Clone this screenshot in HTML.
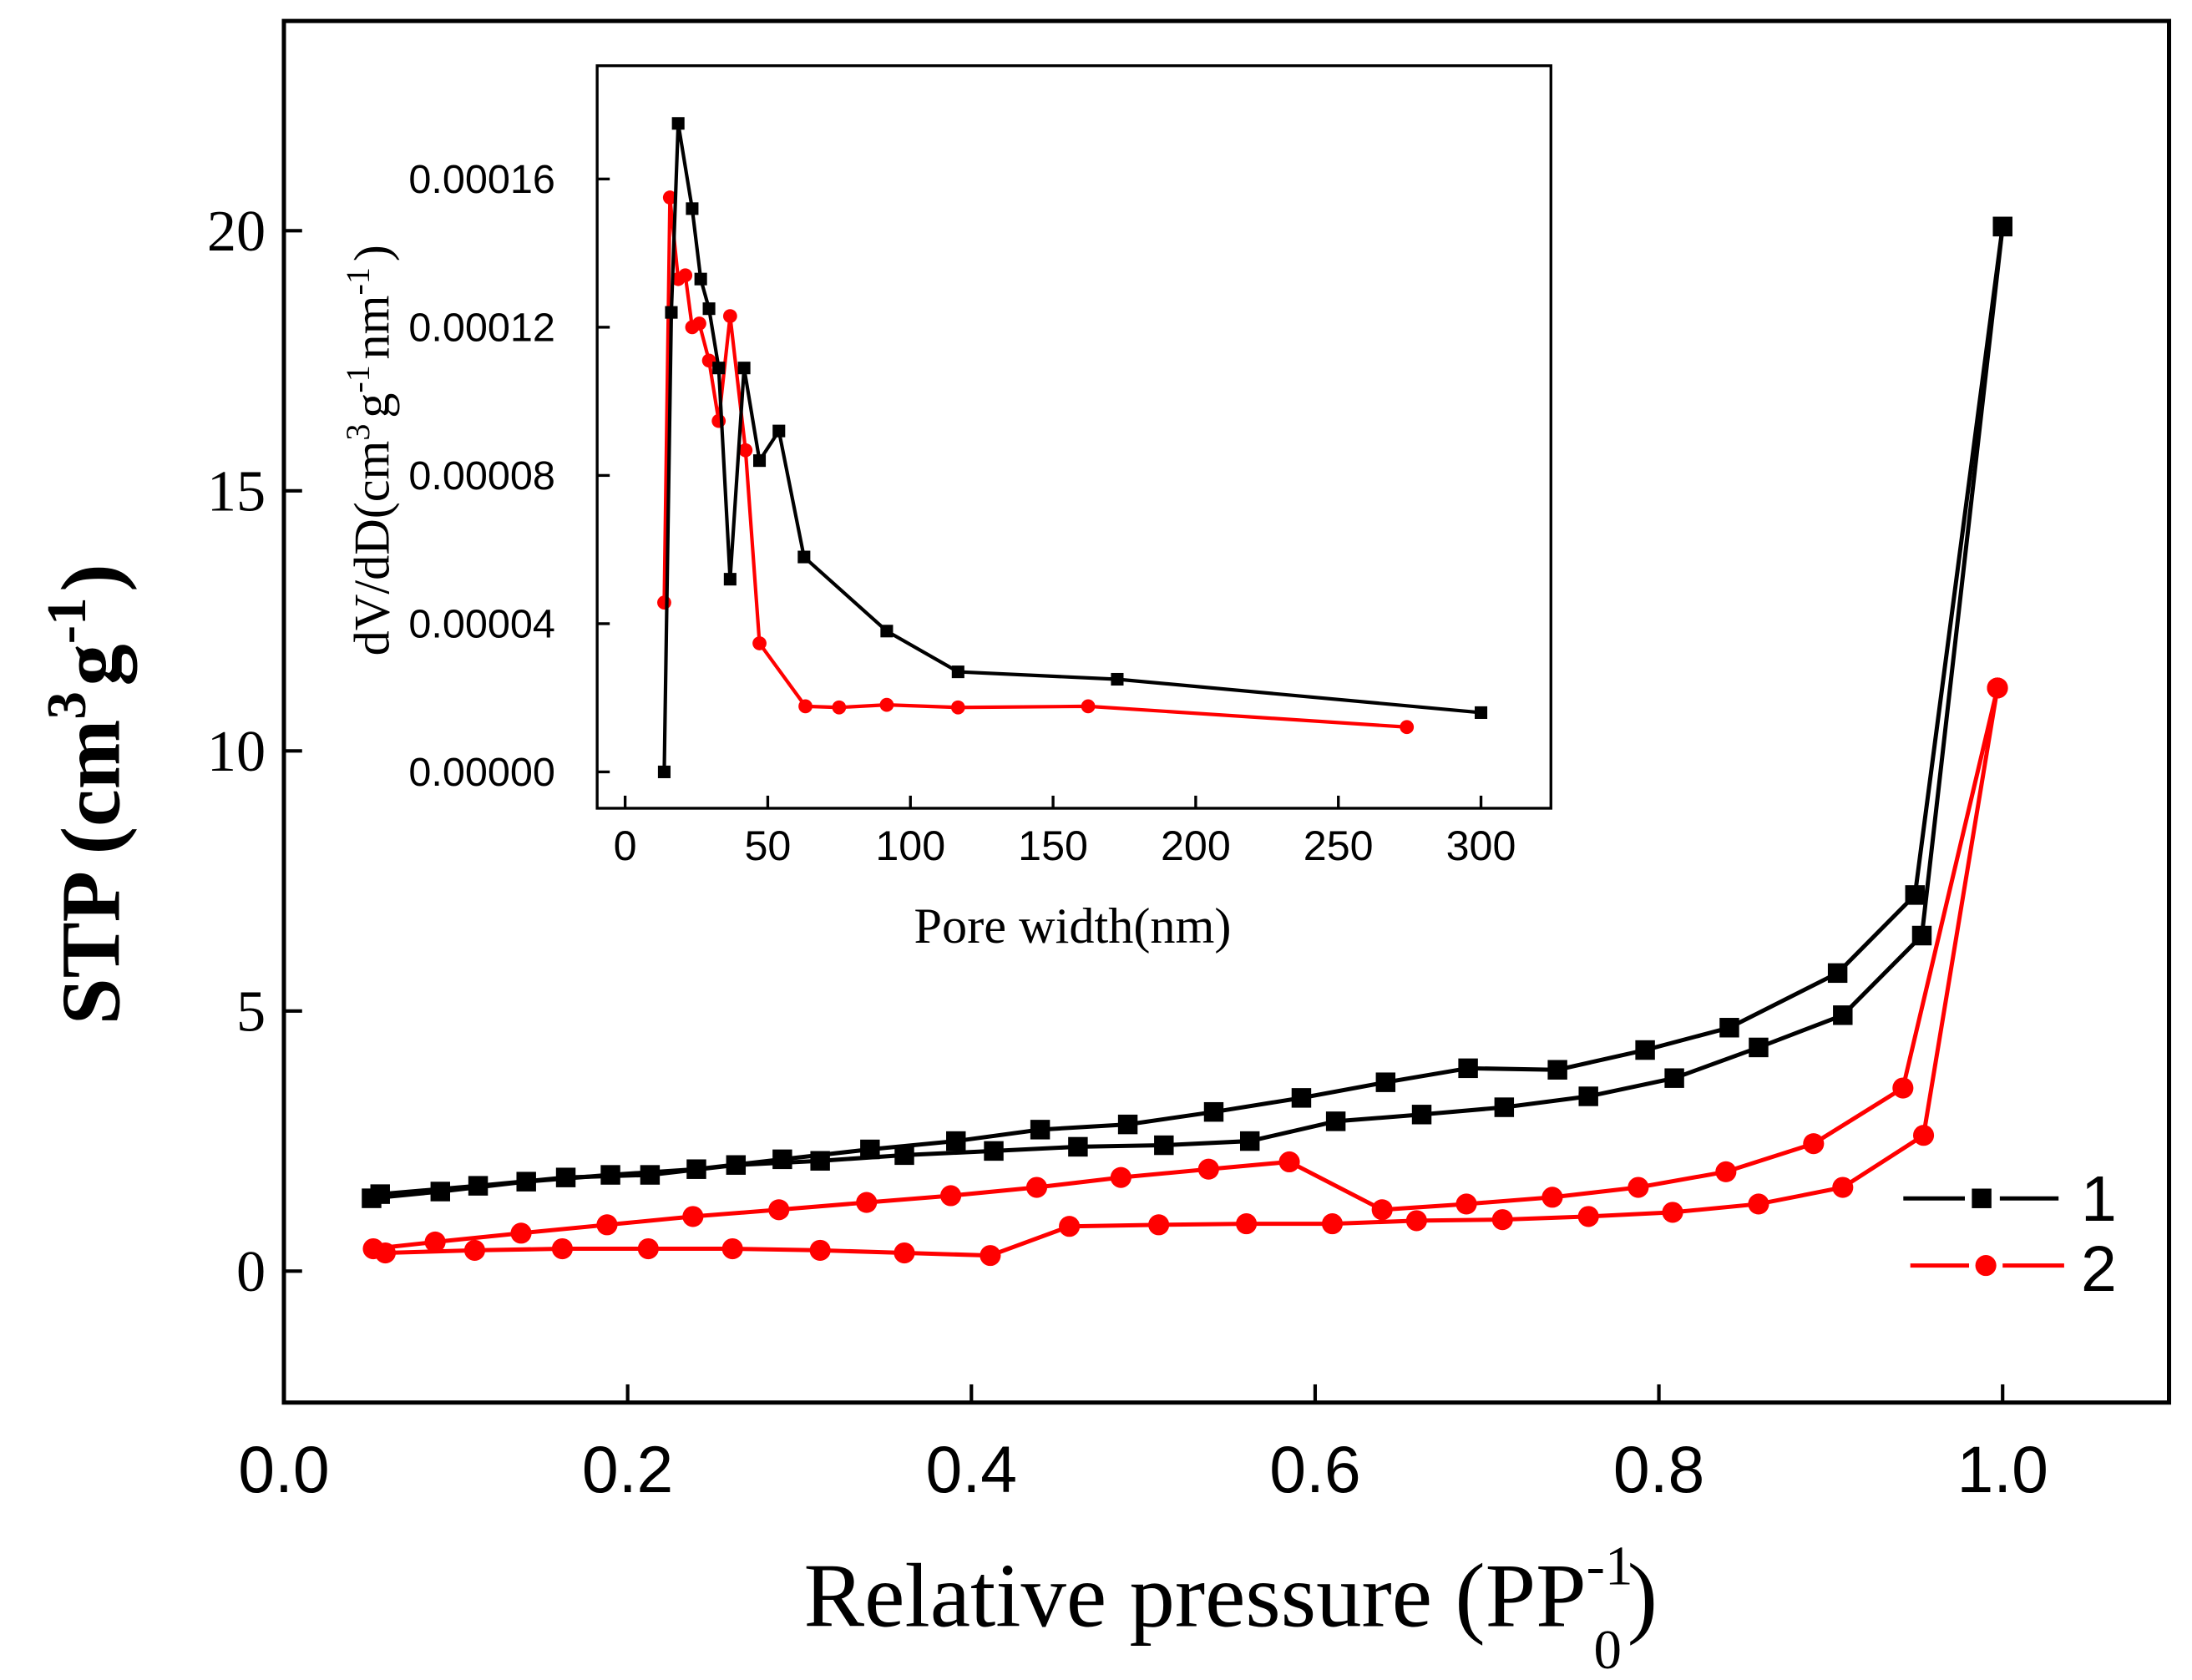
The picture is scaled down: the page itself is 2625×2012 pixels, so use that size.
<!DOCTYPE html>
<html><head><meta charset="utf-8"><style>html,body{margin:0;padding:0;background:#fff}svg{display:block}</style></head>
<body>
<svg id="chart" width="2625" height="2012" viewBox="0 0 1567.4 1201.4" xmlns="http://www.w3.org/2000/svg">
<g id="main"></g>
<g id="inset"></g>
</svg>
<script>
// Main chart data (P/P0, STP)
const s1DesX=[1.0,0.949,0.904,0.841,0.792,0.741,0.689,0.641,0.592,0.541,0.491,0.440,0.391,0.341,0.290,0.240,0.190,0.141,0.091,0.051];
const s1DesY=[20.08,7.23,5.73,4.68,4.25,3.87,3.90,3.63,3.33,3.06,2.82,2.72,2.50,2.34,2.15,1.96,1.85,1.72,1.53,1.40];
const s1AdsX=[0.056,0.113,0.164,0.213,0.263,0.312,0.361,0.413,0.462,0.512,0.562,0.612,0.662,0.710,0.759,0.809,0.858,0.907,0.953,1.0];
const s1AdsY=[1.48,1.64,1.80,1.85,2.04,2.12,2.23,2.31,2.39,2.42,2.50,2.88,3.01,3.15,3.36,3.71,4.30,4.92,6.45,20.08];
const s2DesX=[0.997,0.942,0.890,0.839,0.788,0.738,0.688,0.639,0.585,0.538,0.487,0.438,0.388,0.339,0.288,0.238,0.188,0.138,0.088,0.052];
const s2DesY=[11.21,3.52,2.45,1.91,1.61,1.42,1.29,1.18,2.10,1.96,1.80,1.61,1.45,1.32,1.18,1.05,0.89,0.73,0.56,0.43];
const s2AdsX=[0.059,0.111,0.162,0.212,0.261,0.312,0.361,0.411,0.457,0.509,0.560,0.610,0.659,0.709,0.759,0.808,0.858,0.907,0.954,0.997];
const s2AdsY=[0.35,0.40,0.43,0.43,0.43,0.40,0.35,0.30,0.86,0.89,0.91,0.91,0.97,0.99,1.05,1.13,1.29,1.61,2.61,11.21];
const xTicks=[0.0,0.2,0.4,0.6,0.8,1.0];
const xTickLabels=["0.0","0.2","0.4","0.6","0.8","1.0"];
const yTicks=[0,5,10,15,20];
const yTickLabels=["0","5","10","15","20"];
// Inset data (nm, dV/dD)
const i1X=[13.7,16.2,18.6,23.5,26.5,29.4,32.8,36.8,41.7,47.1,53.9,62.7,91.7,116.7,172.5,300];
const i1Y=[0,0.000124,0.000175,0.000152,0.000133,0.000125,0.000109,0.000052,0.000109,0.000084,0.000092,0.000058,0.000038,0.000027,0.000025,0.000016];
const i2X=[13.7,15.7,18.6,21.1,23.5,26.0,29.4,32.8,36.8,42.2,47.1,63.2,75.0,91.7,116.7,162.3,274];
const i2Y=[0.0000457,0.000155,0.000133,0.000134,0.000120,0.000121,0.000111,0.0000947,0.000123,0.0000868,0.0000347,0.0000177,0.0000174,0.0000181,0.0000174,0.0000177,0.0000121];
const ixTicks=[0,50,100,150,200,250,300];
const ixTickLabels=["0","50","100","150","200","250","300"];
const iyTicks=[0,0.00004,0.00008,0.00012,0.00016];
const iyTickLabels=["0.00000","0.00004","0.00008","0.00012","0.00016"];

const NS="http://www.w3.org/2000/svg";
function mk(parent,tag,attrs,text){const e=document.createElementNS(NS,tag);for(const k in attrs)e.setAttribute(k,attrs[k]);if(text!==undefined)e.textContent=text;parent.appendChild(e);return e;}
const main=document.getElementById('main');
const inset=document.getElementById('inset');
const X=v=>203+v*1229;
const Y=v=>909-v*37.2;
const IX=v=>447+v*2.04;
const IY=v=>552-v*2650000;

let fr=mk(main,'rect',{x:203,y:15,width:1348,height:988,fill:'none',stroke:'#000','stroke-width':3});


xTicks.forEach((t,i)=>{
  let l=mk(main,'line',{x1:X(t),x2:X(t),y1:1003,y2:990,stroke:'#000','stroke-width':2.5});
  
  
  let tx=mk(main,'text',{x:X(t),y:1067,'text-anchor':'middle','font-family':'Liberation Sans, sans-serif','font-size':47},xTickLabels[i]);
  
  
});
yTicks.forEach((t,i)=>{
  let l=mk(main,'line',{x1:203,x2:216,y1:Y(t),y2:Y(t),stroke:'#000','stroke-width':2.5});
  
  
  let tx=mk(main,'text',{x:190,y:Y(t)+14,'text-anchor':'end','font-family':'Liberation Serif, serif','font-size':42},yTickLabels[i]);
  
  
});
let yt=mk(main,'text',{transform:'translate(85,568) rotate(-90)','text-anchor':'middle','font-family':'Liberation Serif, serif','font-size':60,'font-weight':'bold'});


yt.innerHTML='STP (cm<tspan dy="-24" font-size="40">3</tspan><tspan dx="4" dy="24">g</tspan><tspan dy="-24" font-size="40">-1</tspan><tspan dx="4" dy="24">)</tspan>';
let xt=mk(main,'text',{x:880,y:1163,'text-anchor':'middle','font-family':'Liberation Serif, serif','font-size':65});


xt.innerHTML='Relative pressure (PP<tspan dy="-30" font-size="40">-1</tspan><tspan dx="-28" dy="60" font-size="40">0</tspan><tspan dx="4" dy="-30">)</tspan>';

function series(g,xs,ys,fx,fy,color,marker,ms,sw,name){
  const pts=xs.map((v,i)=>fx(v)+','+fy(ys[i])).join(' ');
  let pl=mk(g,'polyline',{points:pts,fill:'none',stroke:color,'stroke-width':sw});
  
  
  xs.forEach((v,i)=>{
    let m;
    if(marker==='sq') m=mk(g,'rect',{x:fx(v)-ms/2,y:fy(ys[i])-ms/2,width:ms,height:ms,fill:color});
    else m=mk(g,'circle',{cx:fx(v),cy:fy(ys[i]),r:ms/2,fill:color});
    
    
  });
}
series(main,s2AdsX,s2AdsY,X,Y,'#f00','ci',15,3,'series2-adsorption');
series(main,s2DesX,s2DesY,X,Y,'#f00','ci',15,3,'series2-desorption');
series(main,s1AdsX,s1AdsY,X,Y,'#000','sq',14,3,'series1-adsorption');
series(main,s1DesX,s1DesY,X,Y,'#000','sq',14,3,'series1-desorption');

let lg=mk(main,'g',{});


let l1=mk(lg,'g',{});


mk(l1,'line',{x1:1361,x2:1405,y1:857,y2:857,stroke:'#000','stroke-width':3});
mk(l1,'line',{x1:1430,x2:1472,y1:857,y2:857,stroke:'#000','stroke-width':3});
mk(l1,'rect',{x:1410,y:850,width:14,height:14,fill:'#000'});
mk(l1,'text',{x:1488,y:873,'font-family':'Liberation Sans, sans-serif','font-size':46},'1');
let l2=mk(lg,'g',{});


mk(l2,'line',{x1:1366,x2:1408,y1:905,y2:905,stroke:'#f00','stroke-width':3});
mk(l2,'line',{x1:1432,x2:1476,y1:905,y2:905,stroke:'#f00','stroke-width':3});
mk(l2,'circle',{cx:1420,cy:905,r:7.5,fill:'#f00'});
mk(l2,'text',{x:1488,y:923,'font-family':'Liberation Sans, sans-serif','font-size':46},'2');

let ifr=mk(inset,'rect',{x:427,y:47,width:682,height:531,fill:'#fff',stroke:'#000','stroke-width':2});


ixTicks.forEach((t,i)=>{
  let l=mk(inset,'line',{x1:IX(t),x2:IX(t),y1:578,y2:569,stroke:'#000','stroke-width':2});
  
  
  let tx=mk(inset,'text',{x:IX(t),y:615,'text-anchor':'middle','font-family':'Liberation Sans, sans-serif','font-size':30},ixTickLabels[i]);
  
  
});
iyTicks.forEach((t,i)=>{
  let l=mk(inset,'line',{x1:427,x2:436,y1:IY(t),y2:IY(t),stroke:'#000','stroke-width':2});
  
  
  let tx=mk(inset,'text',{x:397,y:IY(t)+10,'text-anchor':'end','font-family':'Liberation Sans, sans-serif','font-size':29},iyTickLabels[i]);
  
  
});
let ixt=mk(inset,'text',{x:767,y:674,'text-anchor':'middle','font-family':'Liberation Serif, serif','font-size':36},'Pore width(nm)');


let iyt=mk(inset,'text',{transform:'translate(278,322) rotate(-90)','text-anchor':'middle','font-family':'Liberation Serif, serif','font-size':36});


iyt.innerHTML='dV/dD(cm<tspan dy="-14" font-size="24">3</tspan><tspan dx="4" dy="14">g</tspan><tspan dy="-14" font-size="24">-1</tspan><tspan dx="4" dy="14">nm</tspan><tspan dy="-14" font-size="24">-1</tspan><tspan dx="4" dy="14">)</tspan>';
series(inset,i2X,i2Y,IX,IY,'#f00','ci',10,2.5,'inset-series2');
series(inset,i1X,i1Y,IX,IY,'#000','sq',9,2.5,'inset-series1');
</script>
</body></html>
